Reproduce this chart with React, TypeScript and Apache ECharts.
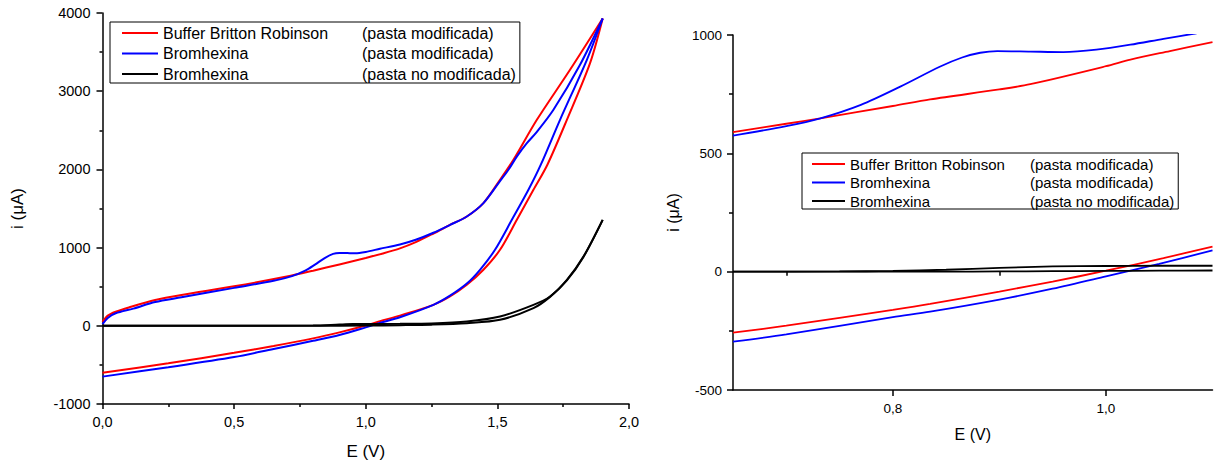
import React, { useEffect, useRef } from "react";
import * as echarts from "echarts";

// ---------- Series names (legend: "name|condition") ----------
const NAME_BUFFER = "Buffer Britton Robinson|(pasta modificada)";
const NAME_BROM_MOD = "Bromhexina|(pasta modificada)";
const NAME_BROM_NOMOD = "Bromhexina|(pasta no modificada)";

// ---------- Left panel: full voltammograms (E in V, i in µA) ----------
const redUpE = [0, 0.02, 0.05, 0.1, 0.2, 0.3, 0.5, 0.7, 0.8, 0.9, 1.0, 1.065, 1.13, 1.19, 1.257, 1.32, 1.384, 1.447, 1.51, 1.561, 1.65, 1.776, 1.9];
const redUpI = [50, 130, 180, 235, 330, 395, 505, 630, 705, 785, 868, 925, 990, 1070, 1180, 1290, 1398, 1569, 1867, 2123, 2634, 3274, 3930];
const redLoE = [1.9, 1.852, 1.764, 1.69, 1.637, 1.574, 1.51, 1.447, 1.384, 1.32, 1.257, 1.13, 1.054, 1.0, 0.9, 0.8, 0.65, 0.5, 0.25, 0];
const redLoI = [3930, 3359, 2634, 2060, 1739, 1355, 972, 716, 524, 375, 268, 130, 59, 4, -84, -161, -258, -345, -480, -600];

const blueUpE = [0, 0.02, 0.05, 0.117, 0.2, 0.3, 0.5, 0.65, 0.72, 0.77, 0.807, 0.844, 0.876, 0.9, 0.93, 0.96, 1.0, 1.054, 1.13, 1.19, 1.257, 1.32, 1.384, 1.447, 1.51, 1.542, 1.575, 1.612, 1.65, 1.713, 1.814, 1.9];
const blueUpI = [20, 100, 160, 220, 305, 365, 485, 575, 635, 705, 782, 866, 920, 932, 930, 928, 945, 985, 1040, 1100, 1190, 1290, 1398, 1569, 1850, 1995, 2170, 2336, 2480, 2762, 3338, 3930];
const blueLoE = [1.9, 1.84, 1.738, 1.665, 1.618, 1.555, 1.491, 1.434, 1.384, 1.32, 1.257, 1.13, 1.05, 1.0, 0.9, 0.8, 0.65, 0.5, 0.25, 0];
const blueLoI = [3930, 3402, 2634, 2060, 1739, 1355, 972, 716, 540, 385, 268, 110, 33, -20, -118, -192, -296, -400, -530, -650];

const blackUpE = [0, 0.5, 0.8, 0.9, 0.95, 1.0, 1.13, 1.25, 1.384, 1.51, 1.637, 1.7, 1.764, 1.827, 1.9];
const blackUpI = [0, 0, 3, 16, 22, 24, 25, 30, 55, 119, 268, 375, 588, 886, 1355];
const blackLoE = [1.9, 1.827, 1.764, 1.7, 1.637, 1.51, 1.384, 1.25, 1.13, 1.0, 0.8, 0.5, 0];
const blackLoI = [1355, 880, 580, 370, 226, 77, 34, 15, 8, 3, 1, 0, 0];

// ---------- Right panel: zoom 0.65 – 1.1 V ----------
const zRedUpE = [0.65, 0.7, 0.732, 0.8, 0.835, 0.9, 0.929, 1.0, 1.023, 1.06, 1.1];
const zRedUpI = [590, 625, 648, 700, 728, 770, 792, 868, 896, 932, 970];
const zBlueUpE = [0.65, 0.7, 0.732, 0.77, 0.807, 0.844, 0.865, 0.882, 0.898, 0.929, 0.96, 0.991, 1.023, 1.054, 1.082, 1.1];
const zBlueUpI = [575, 615, 648, 705, 782, 866, 905, 925, 932, 930, 928, 938, 959, 984, 1005, 1020];
const zRedLoE = [1.1, 1.054, 1.0, 0.95, 0.9, 0.835, 0.8, 0.7, 0.65];
const zRedLoI = [106, 57, 4, -42, -84, -136, -161, -228, -258];
const zBlueLoE = [1.1, 1.05, 1.0, 0.95, 0.9, 0.835, 0.8, 0.7, 0.65];
const zBlueLoI = [90, 33, -20, -72, -118, -169, -192, -265, -296];
const zBlackUpE = [0.65, 0.75, 0.8, 0.85, 0.9, 0.95, 1.0, 1.05, 1.1];
const zBlackUpI = [0, 1, 3, 8, 16, 22, 24, 25, 25];
const zBlackLoE = [1.1, 1.05, 1.0, 0.95, 0.9, 0.85, 0.8, 0.75, 0.65];
const zBlackLoI = [5, 4, 3, 2, 1, 0, 0, 0, 0];

// ---------- Axis ticks ----------
const zMajorTicks = [0.8, 1.0];
const zMinorTicks = [0.7, 0.9];

const FF = '"Liberation Sans", Arial, Helvetica, sans-serif';
const RED = "#ff0000";
const BLUE = "#0000ff";
const BLACK = "#000000";

const pairs = (xs: number[], ys: number[]) => xs.map((x, k) => [x, ys[k]]);
const comma = (v: number) => v.toFixed(1).replace(".", ",");
const plain = (v: number) => String(v);

function line(name: string, color: string, xs: number[], ys: number[], idx: number, width: number) {
  return {
    type: "line",
    name,
    xAxisIndex: idx,
    yAxisIndex: idx,
    data: pairs(xs, ys),
    showSymbol: false,
    symbol: "none",
    smooth: 0.3,
    silent: true,
    clip: true,
    itemStyle: { color },
    lineStyle: { color, width },
  };
}

function legendFor(left: number, top: number, colA: number, fs: number, lh: number, gap: number, iconW: number, pad: number[]) {
  return {
    show: true,
    orient: "vertical",
    left,
    top,
    data: [NAME_BUFFER, NAME_BROM_MOD, NAME_BROM_NOMOD],
    icon: "rect",
    itemWidth: iconW,
    itemHeight: 2,
    itemGap: gap,
    padding: pad,
    borderColor: "#000",
    borderWidth: 1,
    backgroundColor: "#fff",
    selectedMode: false,
    formatter: (n: string) => {
      const [a, b] = n.split("|");
      return `{a|${a}}{b|${b}}`;
    },
    textStyle: {
      color: "#000",
      fontFamily: FF,
      fontSize: fs,
      lineHeight: lh,
      rich: {
        a: { width: colA, fontSize: fs, fontFamily: FF, color: "#000", lineHeight: lh },
        b: { fontSize: fs, fontFamily: FF, color: "#000", lineHeight: lh },
      },
    },
  };
}

const axisLine = { show: true, onZero: false, lineStyle: { color: "#000", width: 1.5 } };

export default function App() {
  const ref = useRef<HTMLDivElement>(null);
  useEffect(() => {
    if (!ref.current) return;
    const chart = echarts.init(ref.current, undefined, { renderer: "svg" });
    const option: any = {
      animation: false,
      backgroundColor: "#fff",
      grid: [
        { left: 102.5, top: 13, width: 526.5, height: 391, outerBoundsMode: "none", containLabel: false },
        { left: 733, top: 35, width: 479.5, height: 355, outerBoundsMode: "none", containLabel: false },
      ],
      legend: [
        legendFor(110, 22, 199, 16, 18, 2.5, 36, [2, 4, 0, 12]),
        legendFor(802, 153, 180, 15, 16, 2.5, 33, [3, 4, 0, 10]),
      ],
      xAxis: [
        {
          type: "value",
          gridIndex: 0,
          min: 0,
          max: 2,
          interval: 0.5,
          name: "E (V)",
          nameLocation: "middle",
          nameGap: 39,
          nameTextStyle: { fontFamily: FF, fontSize: 17, color: "#000" },
          axisLine,
          axisTick: { show: true, inside: false, length: 5, lineStyle: { color: "#000", width: 1.5 } },
          minorTick: { show: true, splitNumber: 2, length: 3, lineStyle: { color: "#000", width: 1.5 } },
          axisLabel: { margin: 10, fontFamily: FF, fontSize: 14.5, color: "#000", formatter: comma },
          splitLine: { show: false },
          minorSplitLine: { show: false },
        },
        {
          type: "value",
          gridIndex: 1,
          position: "bottom",
          min: 0.65,
          max: 1.1,
          name: "E (V)",
          nameLocation: "middle",
          nameGap: 36,
          nameTextStyle: { fontFamily: FF, fontSize: 16, color: "#000" },
          axisLine,
          axisTick: { show: true, inside: false, length: 6, customValues: zMajorTicks, lineStyle: { color: "#000", width: 1.5 } },
          axisLabel: { margin: 11, fontFamily: FF, fontSize: 13.5, color: "#000", customValues: zMajorTicks, formatter: comma },
          splitLine: { show: false },
        },
        {
          type: "value",
          gridIndex: 1,
          position: "bottom",
          offset: 0,
          min: 0.65,
          max: 1.1,
          axisLine: { show: false },
          axisTick: { show: true, inside: false, length: 4, customValues: zMinorTicks, lineStyle: { color: "#000", width: 1.5 } },
          axisLabel: { show: false },
          splitLine: { show: false },
        },
      ],
      yAxis: [
        {
          type: "value",
          gridIndex: 0,
          min: -1000,
          max: 4000,
          interval: 1000,
          name: "i (\u03bcA)",
          nameLocation: "middle",
          nameGap: 77,
          nameTextStyle: { fontFamily: FF, fontSize: 17, color: "#000" },
          axisLine,
          axisTick: { show: true, inside: false, length: 6, lineStyle: { color: "#000", width: 1.5 } },
          minorTick: { show: true, splitNumber: 2, length: 3, lineStyle: { color: "#000", width: 1.5 } },
          axisLabel: { margin: 12, fontFamily: FF, fontSize: 14.5, color: "#000", formatter: plain },
          splitLine: { show: false },
          minorSplitLine: { show: false },
        },
        {
          type: "value",
          gridIndex: 1,
          min: -500,
          max: 1000,
          interval: 500,
          name: "i (\u03bcA)",
          nameLocation: "middle",
          nameGap: 52,
          nameTextStyle: { fontFamily: FF, fontSize: 16, color: "#000" },
          axisLine,
          axisTick: { show: true, inside: false, length: 6, lineStyle: { color: "#000", width: 1.5 } },
          minorTick: { show: true, splitNumber: 2, length: 4, lineStyle: { color: "#000", width: 1.5 } },
          axisLabel: { margin: 11, fontFamily: FF, fontSize: 13.5, color: "#000", formatter: plain },
          splitLine: { show: false },
          minorSplitLine: { show: false },
        },
      ],
      series: [
        line(NAME_BUFFER, RED, redUpE, redUpI, 0, 2),
        line(NAME_BUFFER, RED, redLoE, redLoI, 0, 2),
        line(NAME_BROM_MOD, BLUE, blueUpE, blueUpI, 0, 2),
        line(NAME_BROM_MOD, BLUE, blueLoE, blueLoI, 0, 2),
        line(NAME_BROM_NOMOD, BLACK, blackUpE, blackUpI, 0, 2),
        line(NAME_BROM_NOMOD, BLACK, blackLoE, blackLoI, 0, 2),
        line(NAME_BUFFER, RED, zRedUpE, zRedUpI, 1, 1.8),
        line(NAME_BUFFER, RED, zRedLoE, zRedLoI, 1, 1.8),
        line(NAME_BROM_MOD, BLUE, zBlueUpE, zBlueUpI, 1, 1.8),
        line(NAME_BROM_MOD, BLUE, zBlueLoE, zBlueLoI, 1, 1.8),
        line(NAME_BROM_NOMOD, BLACK, zBlackUpE, zBlackUpI, 1, 1.8),
        line(NAME_BROM_NOMOD, BLACK, zBlackLoE, zBlackLoI, 1, 1.8),
      ],
    };
    chart.setOption(option);
    return () => chart.dispose();
  }, []);
  return (
    <div
      ref={ref}
      style={{ position: "fixed", left: 0, top: 0, width: 1214, height: 466, background: "#fff" }}
    />
  );
}
